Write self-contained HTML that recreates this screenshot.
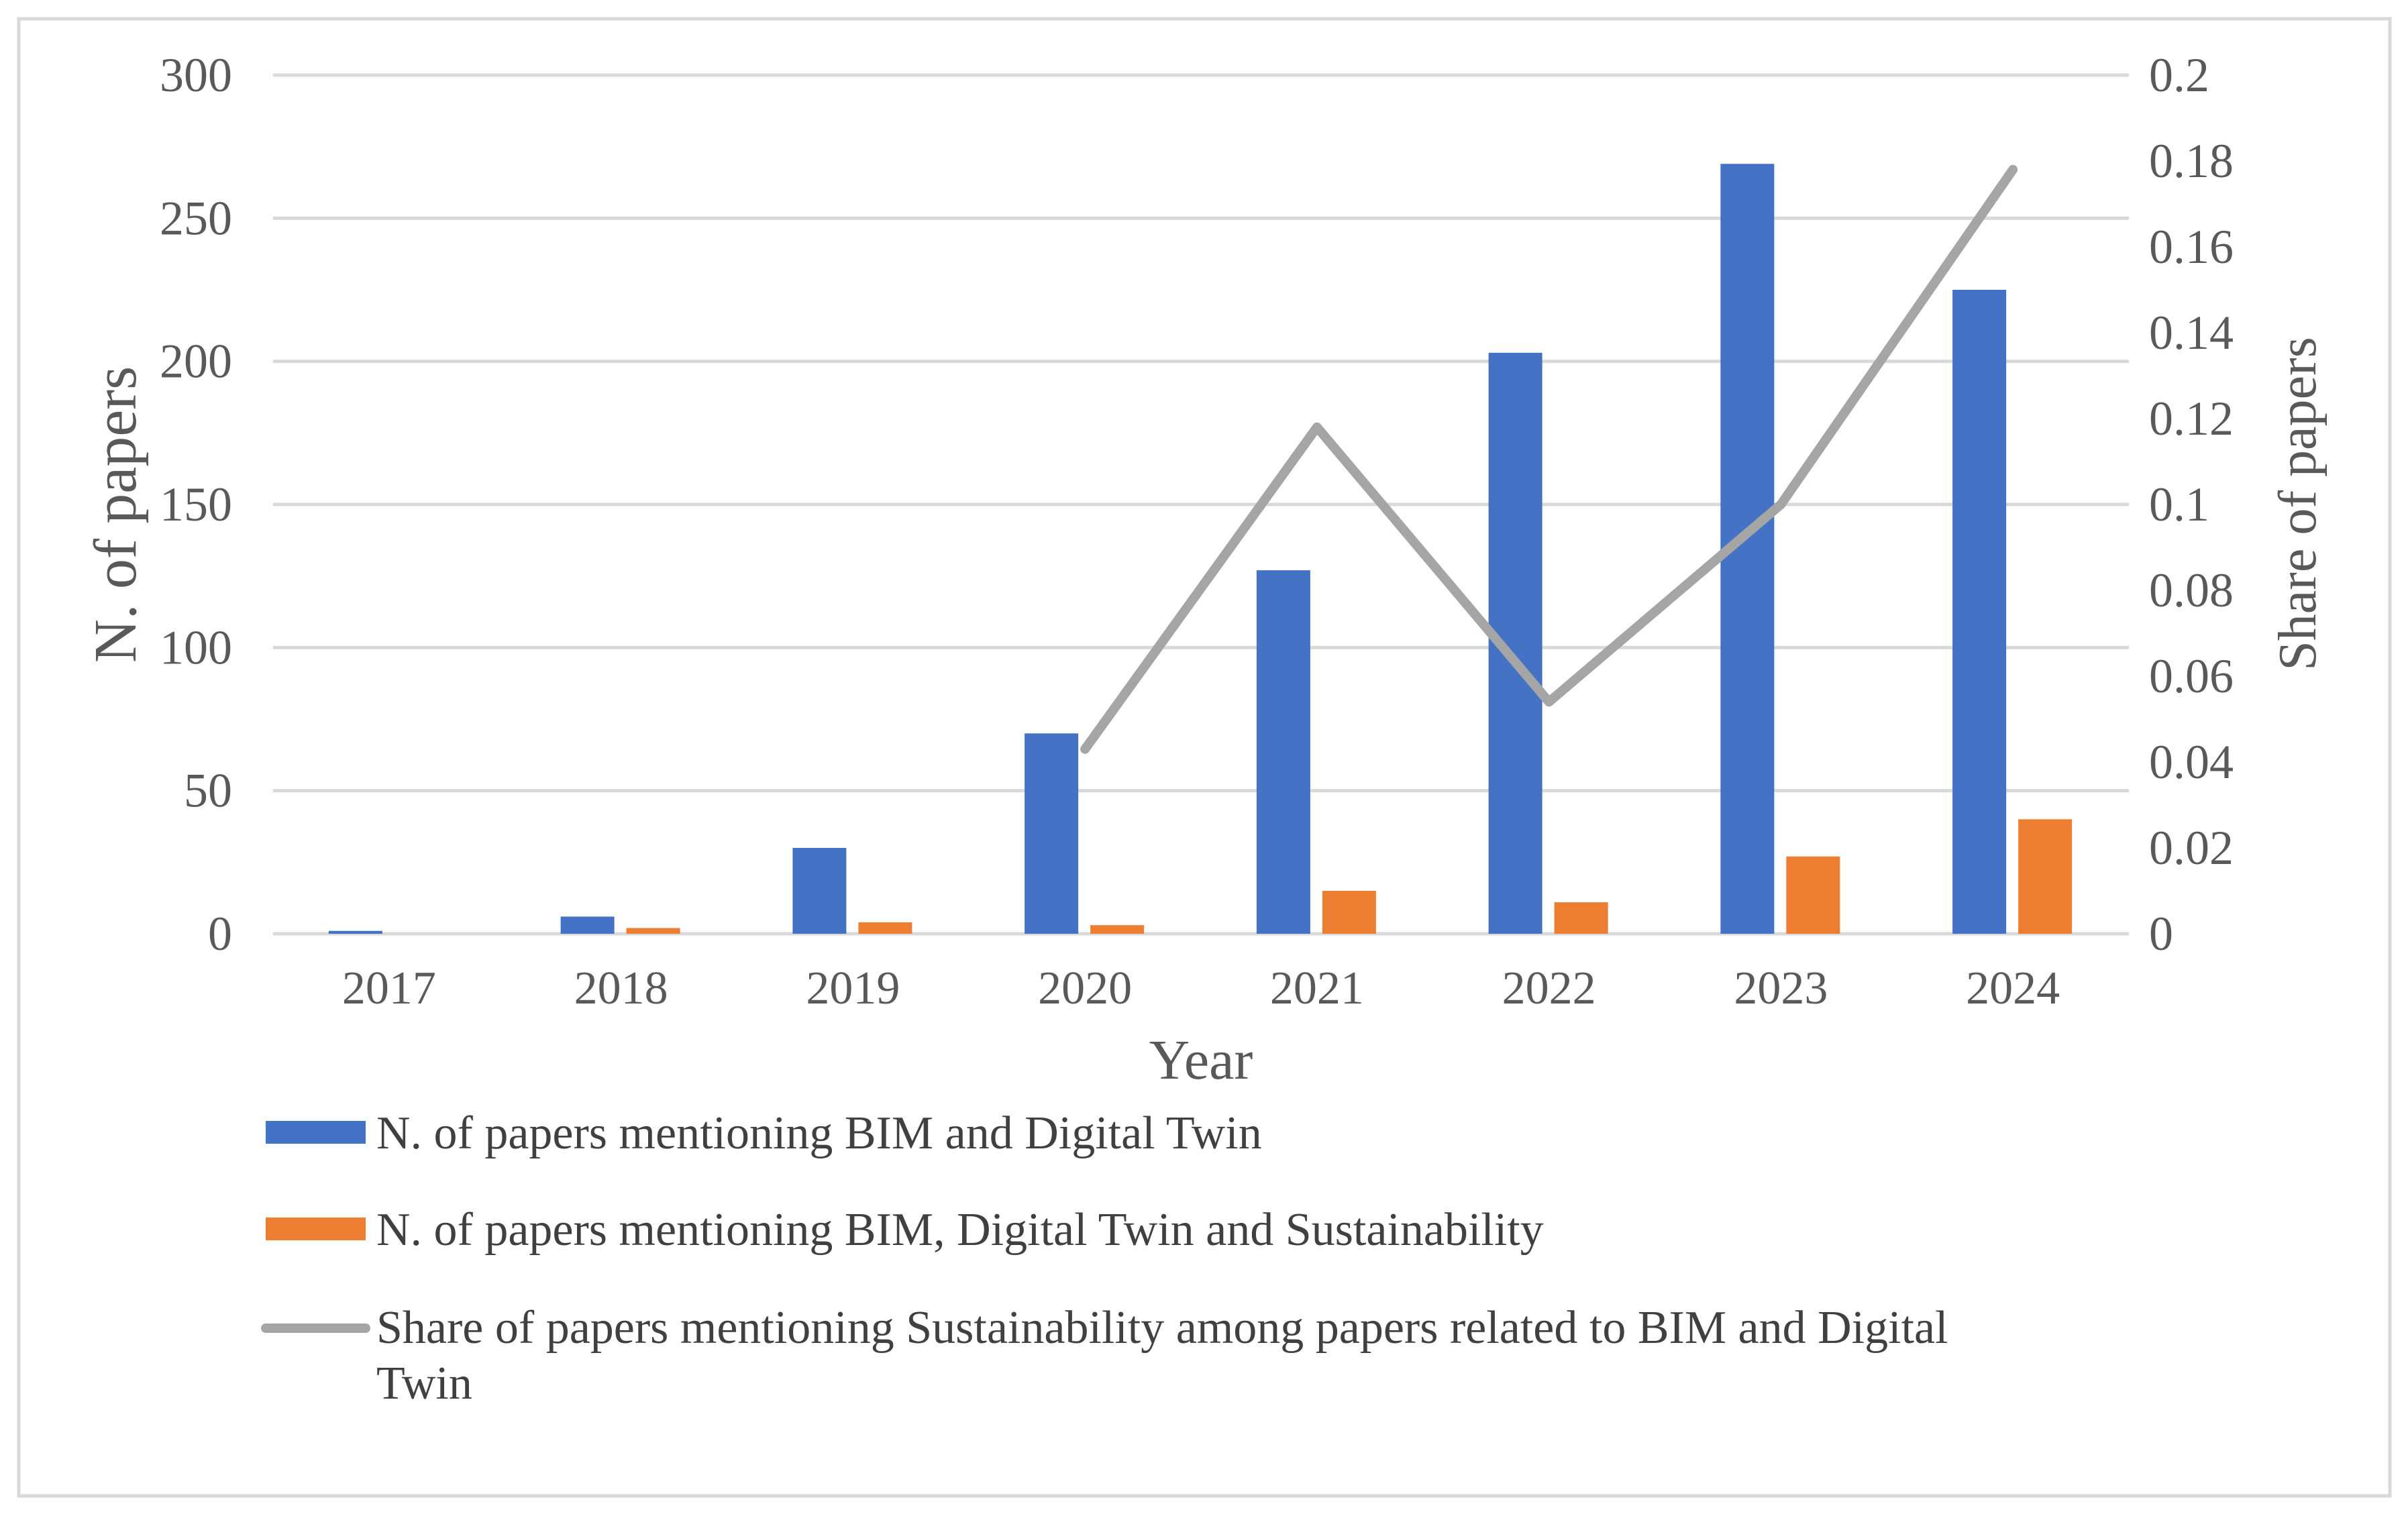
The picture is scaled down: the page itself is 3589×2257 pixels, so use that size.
<!DOCTYPE html>
<html><head><meta charset="utf-8"><style>
html,body{margin:0;padding:0;background:#fff;}
svg{display:block;font-family:"Liberation Serif",serif;}
</style></head><body>
<svg id="chart" width="3589" height="2257" viewBox="0 0 3589 2257" xmlns="http://www.w3.org/2000/svg">
<rect x="28" y="28" width="3534" height="2202" fill="#fff" stroke="#d9d9d9" stroke-width="5"/>
<g id="grid"></g><g id="bars"></g><g id="line"></g><g id="labels"></g>
<text x="1790" y="1608" font-size="84" fill="#595959" text-anchor="middle">Year</text>
<text transform="translate(202,767) rotate(-90)" font-size="90" fill="#595959" text-anchor="middle">N. of papers</text>
<text transform="translate(3451,751) rotate(-90)" font-size="80" fill="#595959" text-anchor="middle">Share of papers</text>
<g>
<rect x="396" y="1671" width="149" height="34" fill="#4472c4"/>
<text x="561" y="1712" font-size="70" fill="#404040">N. of papers mentioning BIM and Digital Twin</text>
<rect x="396" y="1815" width="149" height="34" fill="#ed7d31"/>
<text x="561" y="1856" font-size="70" fill="#404040">N. of papers mentioning BIM, Digital Twin and Sustainability</text>
<line x1="396" y1="1980" x2="545" y2="1980" stroke="#a5a5a5" stroke-width="14" stroke-linecap="round"/>
<text x="561" y="2002" font-size="70" fill="#404040">Share of papers mentioning Sustainability among papers related to BIM and Digital</text>
<text x="561" y="2085" font-size="70" fill="#404040">Twin</text>
</g>
</svg>
<script>
const categories = ["2017","2018","2019","2020","2021","2022","2023","2024"];
const bimDt = [1, 6, 30, 70, 127, 203, 269, 225];
const bimDtSust = [0, 2, 4, 3, 15, 11, 27, 40];
const shareYears = ["2020","2021","2022","2023","2024"];
const share = [0.043, 0.118, 0.054, 0.1, 0.178];
const leftTicks = [0, 50, 100, 150, 200, 250, 300];
const rightTicks = ["0","0.02","0.04","0.06","0.08","0.1","0.12","0.14","0.16","0.18","0.2"];

const NS = "http://www.w3.org/2000/svg";
const L = 407, R = 3173, T = 112, B = 1392;
const y = v => B - (v / 300) * (B - T);
const y2 = v => B - (v / 0.2) * (B - T);
const step = (R - L) / categories.length;
const cx = c => L + step * (categories.indexOf(c) + 0.5);
function mk(tag, attrs, parent) { const e = document.createElementNS(NS, tag); for (const k in attrs) e.setAttribute(k, attrs[k]); parent.appendChild(e); return e; }
const grid = document.getElementById("grid"), bars = document.getElementById("bars"), line = document.getElementById("line"), labels = document.getElementById("labels");

leftTicks.forEach(t => {
  const g = mk("line", {x1: L, x2: R, y1: y(t), y2: y(t), stroke: "#d9d9d9", "stroke-width": 5}, grid);
  
  
  const tx = mk("text", {x: 346, y: y(t) + 24, "font-size": 72, fill: "#595959", "text-anchor": "end"}, labels);
  tx.textContent = t;
  
  
});
rightTicks.forEach(t => {
  const tx = mk("text", {x: 3203, y: y2(parseFloat(t)) + 24, "font-size": 72, fill: "#595959"}, labels);
  tx.textContent = t;
  
  
});
categories.forEach((c, i) => {
  const x = cx(c);
  const b1 = mk("rect", {x: x - 90, y: y(bimDt[i]), width: 80, height: B - y(bimDt[i]), fill: "#4472c4"}, bars);
  
  
  const b2 = mk("rect", {x: x + 8, y: y(bimDtSust[i]), width: 80, height: B - y(bimDtSust[i]), fill: "#ed7d31"}, bars);
  
  
  const tx = mk("text", {x: x, y: 1496, "font-size": 70, fill: "#595959", "text-anchor": "middle"}, labels);
  tx.textContent = c;
  
  
});
const pts = shareYears.map((c, i) => cx(c) + "," + y2(share[i])).join(" ");
const pl = mk("polyline", {points: pts, fill: "none", stroke: "#a5a5a5", "stroke-width": 14, "stroke-linecap": "round", "stroke-linejoin": "round"}, line);


</script>
</body></html>
